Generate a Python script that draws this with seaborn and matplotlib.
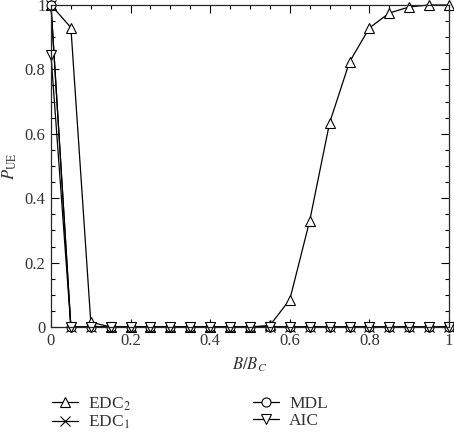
import numpy as np
import pandas as pd
import matplotlib
matplotlib.use("Agg")
import matplotlib.pyplot as plt
import seaborn as sns
from matplotlib.ticker import MultipleLocator

# ratio B/B_C
ratio = [0.0, 0.05, 0.1, 0.15, 0.2, 0.25, 0.3, 0.35, 0.4, 0.45, 0.5,
         0.55, 0.6, 0.65, 0.7, 0.75, 0.8, 0.85, 0.9, 0.95, 1.0]

edc2 = [1.0, 0.93, 0.015, 0, 0, 0, 0, 0, 0, 0, 0,
        0.005, 0.085, 0.33, 0.634, 0.823, 0.929, 0.975, 0.994, 1.0, 1.0]
edc1 = [1.0] + [0] * 20
mdl = [1.0] + [0] * 20
aic = [0.845] + [0] * 20

tick_vals = [0, 0.2, 0.4, 0.6, 0.8, 1]
tick_labels = ["0", "0.2", "0.4", "0.6", "0.8", "1"]

series = {
    "EDC$_2$": (edc2, "^"),
    "EDC$_1$": (edc1, "x"),
    "MDL": (mdl, "o"),
    "AIC": (aic, "v"),
}

sns.set_style("ticks")
plt.rcParams["font.family"] = ["Liberation Serif", "DejaVu Serif"]
plt.rcParams["mathtext.fontset"] = "stix"

fig = plt.figure(figsize=(4.54, 4.38), dpi=100)
ax = fig.add_axes([0.1123, 0.2534, 0.8767, 0.7352])

handles = {}
for name, (vals, mk) in series.items():
    df = pd.DataFrame({"x": ratio, "y": vals})
    sns.lineplot(data=df, x="x", y="y", ax=ax, color="black", lw=0.9,
                 marker=mk, markersize=6.5,
                 markerfacecolor="white", markeredgecolor="black",
                 markeredgewidth=0.8, label=name, legend=False, clip_on=False)
    handles[name] = ax.lines[-1]

ax.set_xlim(0, 1)
ax.set_ylim(0, 1)
ax.set_xticks(tick_vals)
ax.set_xticklabels(tick_labels)
ax.set_yticks(tick_vals)
ax.set_yticklabels(tick_labels)
ax.xaxis.set_minor_locator(MultipleLocator(0.05))
ax.yaxis.set_minor_locator(MultipleLocator(0.05))
ax.tick_params(which="both", direction="in", top=True, right=True,
               labelsize=12, colors="black", labelcolor="#333333", width=0.8)
ax.tick_params(which="major", length=6, pad=4)
ax.tick_params(which="minor", length=3)
for s in ax.spines.values():
    s.set_linewidth(0.9)
ax.set_xlabel("$B/B_C$", fontsize=12, color="#333333", labelpad=5)
ax.set_ylabel(r"$P_{\rm UE}$", fontsize=12, color="#333333", labelpad=4)

order = ["EDC$_2$", "EDC$_1$", "MDL", "AIC"]
fig.legend([handles[k] for k in order], order, ncol=2, frameon=False,
           loc="upper left", bbox_to_anchor=(0.099, 0.113), fontsize=12.5,
           handlelength=1.5, handletextpad=0.6, columnspacing=7.0,
           labelspacing=0.05, borderaxespad=0, labelcolor="#333333")

fig.savefig("out.png", dpi=100)
